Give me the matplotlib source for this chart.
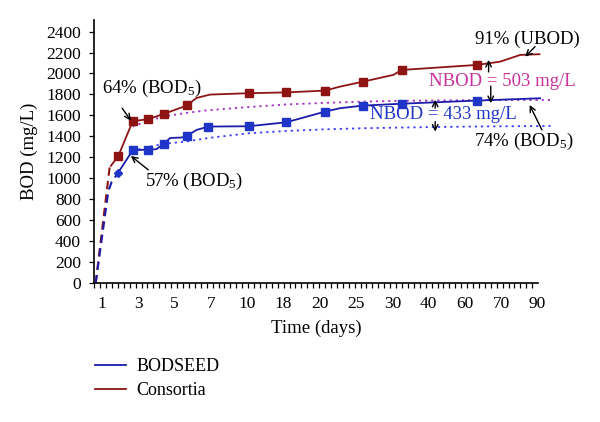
# BOD curves, BODSEED vs consortia
import matplotlib
matplotlib.use('Agg')
import matplotlib.pyplot as plt
from matplotlib.lines import Line2D
import numpy as np

# modify default configurations
matplotlib.rcParams['font.family'] = 'Liberation Serif'
matplotlib.rcParams['mathtext.fontset'] = 'custom'
matplotlib.rcParams['mathtext.rm'] = 'Liberation Serif'
matplotlib.rcParams['mathtext.it'] = 'Liberation Serif:italic'

# x axis is a category axis: label i sits at position i
x_labels = ['1', '3', '5', '7', '10', '18', '20', '25', '30', '40', '60', '70', '90']

# consortia (red)
red_dash_x = [-0.17, 0.22]
red_dash_y = [0, 1120]
red_x = [0.25, 0.45, 0.85, 1.28, 1.71, 2.34, 2.61, 2.98, 4.04, 5.08, 6.15, 6.56,
         7.19, 8.03, 8.26, 10.34, 10.97, 11.52, 12.05]
red_y = [1120, 1210, 1545, 1565, 1615, 1695, 1767, 1799, 1812, 1820, 1837, 1875,
         1922, 1987, 2034, 2082, 2113, 2177, 2184]
red_mk_x = [0.45, 0.85, 1.28, 1.71, 2.34, 4.04, 5.08, 6.15, 7.19, 8.26, 10.34]
red_mk_y = [1210, 1545, 1565, 1615, 1695, 1812, 1820, 1837, 1922, 2034, 2082]

# BODSEED (blue)
blue_dash_x = [-0.17, 0.18, 0.27, 0.45]
blue_dash_y = [0, 880, 965, 1055]
blue_x = [0.45, 0.85, 1.28, 1.50, 1.71, 1.88, 2.20, 2.34, 2.61, 2.93, 4.04, 5.08,
          6.15, 6.56, 7.19, 8.26, 10.34, 12.07]
blue_y = [1055, 1268, 1275, 1278, 1330, 1385, 1390, 1405, 1462, 1494, 1497, 1535,
          1637, 1669, 1694, 1712, 1742, 1764]
blue_mk_x = [0.85, 1.28, 1.71, 2.34, 2.93, 4.04, 5.08, 6.15, 7.19, 8.26, 10.34]
blue_mk_y = [1268, 1275, 1330, 1405, 1494, 1497, 1535, 1637, 1694, 1712, 1742]

# fitted first-order curves (dotted)
fit_x = [0.85, 1.28, 1.71, 2.34, 2.93, 4.04, 5.08, 6.15, 7.19, 8.26, 10.34, 12.45]
fit_red_y = [1495, 1550, 1590, 1625, 1650, 1680, 1705, 1720, 1732, 1740, 1746, 1748]
fit_blue_y = [1260, 1300, 1330, 1352, 1385, 1430, 1452, 1468, 1478, 1485, 1495, 1500]

c_red = '#8e1414'
c_blue = '#1c1caa'
c_mblue = '#1f35c8'
c_purple = '#a030c0'
c_pink = '#c8309a'
c_dblue = '#3a3aff'

fig = plt.figure(figsize=(6.0, 4.22), dpi=100)
ax = fig.add_axes([0.157, 0.3287, 0.739, 0.6239])

# dotted fits
ax.plot(fit_x, fit_red_y, color=c_purple, linestyle=(0, (1.2, 2.2)), linewidth=1.3,
        clip_on=False)
ax.plot(fit_x, fit_blue_y, color=c_dblue, linestyle=(0, (1.2, 2.2)), linewidth=1.3,
        clip_on=False)

# dashed start
ax.plot(red_dash_x, red_dash_y, color=c_red, linestyle=(0, (4, 2.5)), linewidth=1.5)
ax.plot(blue_dash_x, blue_dash_y, color=c_blue, linestyle=(0, (4, 2.5)), linewidth=1.5)

# main lines
ax.plot(red_x, red_y, color=c_red, linewidth=1.3, clip_on=False)
ax.plot(blue_x, blue_y, color=c_blue, linewidth=1.3, clip_on=False)

ax.plot(red_mk_x, red_mk_y, linestyle='none', marker='s', markersize=6,
        color=c_red)
ax.plot(blue_mk_x, blue_mk_y, linestyle='none', marker='s', markersize=6,
        color=c_mblue)
ax.plot([0.45], [1055], linestyle='none', marker='D', markersize=4.5,
        color=c_mblue)

ax.set_xlim(-0.21, 12.0)
ax.set_ylim(0, 2510)
ax.set_yticks(np.arange(0, 2401, 200))
ax.set_xticks(range(len(x_labels)))
ax.set_xticklabels(x_labels)
ax.set_xticks(np.arange(-0.21, 12.01, 0.163), minor=True)

for s in ['top', 'right']:
    ax.spines[s].set_visible(False)
for s in ['left', 'bottom']:
    ax.spines[s].set_linewidth(1.2)

ax.tick_params(axis='x', which='major', length=0, pad=9, labelsize=12.5)
ax.tick_params(axis='x', which='minor', length=3.5, width=0.9, direction='out')
ax.tick_params(axis='y', which='major', length=3.5, width=0.9, pad=6, labelsize=12.5)

ax.set_xlabel('Time (days)', fontsize=13.5, labelpad=6)
ax.set_ylabel('BOD (mg/L)', fontsize=13.5, labelpad=6)

# annotations
fs = 13.5
arw = dict(arrowstyle='->', color='black', lw=1.0, shrinkA=0, shrinkB=0)
ax.annotate('', xy=(0.80, 1551), xytext=(0.56, 1669), arrowprops=arw)
ax.text(1.37, 1862, '64% (BOD$_{\\mathregular{5}}$)', fontsize=fs, ha='center', va='center')
ax.annotate('', xy=(0.80, 1214), xytext=(1.28, 1081), arrowprops=arw)
ax.text(2.53, 969, '57% (BOD$_{\\mathregular{5}}$)', fontsize=fs, ha='center', va='center')

ax.annotate('', xy=(11.66, 2161), xytext=(11.93, 2256), arrowprops=arw,
            annotation_clip=False)
ax.text(11.73, 2327, '91% (UBOD)', fontsize=fs, ha='center', va='center')

ax.text(11.02, 1923, 'NBOD = 503 mg/L', fontsize=fs, color=c_pink, ha='center',
        va='center')
ax.annotate('', xy=(10.65, 2130), xytext=(10.65, 2015), arrowprops=arw)
ax.annotate('', xy=(10.71, 1717), xytext=(10.71, 1880), arrowprops=arw)

ax.text(9.41, 1605, 'NBOD = 433 mg/L', fontsize=fs, color=c_mblue, ha='center',
        va='center')
ax.annotate('', xy=(9.18, 1750), xytext=(9.18, 1670), arrowprops=arw)
ax.annotate('', xy=(9.18, 1446), xytext=(9.18, 1541), arrowprops=arw)

ax.annotate('', xy=(11.78, 1700), xytext=(12.12, 1462), arrowprops=arw,
            annotation_clip=False)
ax.text(11.63, 1350, '74% (BOD$_{\\mathregular{5}}$)', fontsize=fs, ha='center',
        va='center')

# legend
lines = [Line2D([0], [0], color=c_blue, linewidth=1.3),
         Line2D([0], [0], color=c_red, linewidth=1.3)]
labels = ['BODSEED', 'Consortia']
fig.legend(lines, labels, loc='upper left', bbox_to_anchor=(0.158, 0.152),
           frameon=False, fontsize=13, handlelength=1.75, handletextpad=0.55,
           labelspacing=0.4, borderpad=0, borderaxespad=0)

fig.savefig('out.png', dpi=100)
